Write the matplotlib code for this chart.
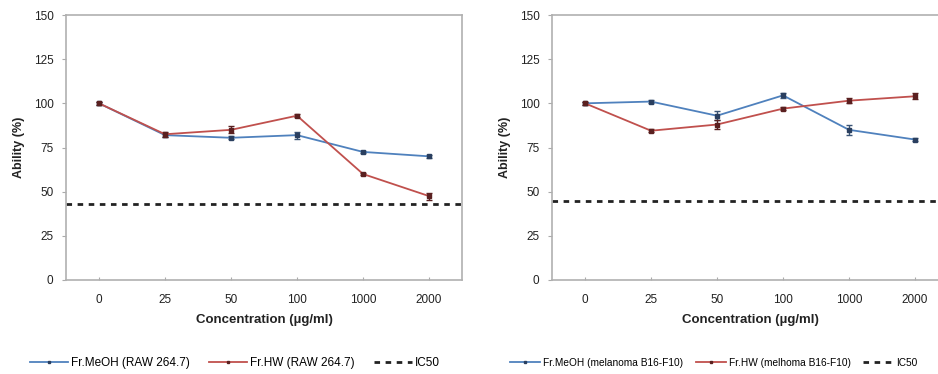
import matplotlib
matplotlib.use("Agg")
import matplotlib.pyplot as plt
from matplotlib.lines import Line2D
import numpy as np

plt.rcParams['font.family'] = ['Liberation Sans', 'DejaVu Sans']

categories = ["0", "25", "50", "100", "1000", "2000"]

# Left panel (RAW 264.7)
raw_meoh = [100, 82, 80.5, 82, 72.5, 70]
raw_meoh_err = [0.8, 1.2, 0.8, 2.0, 0.8, 0.8]
raw_hw = [100, 82.5, 85, 93, 60, 47.5]
raw_hw_err = [0.8, 1.5, 2.0, 1.0, 0.8, 2.0]
raw_ic50 = 43

# Right panel (melanoma B16-F10)
mel_meoh = [100, 101, 93, 104.5, 85, 79.5]
mel_meoh_err = [0.8, 0.8, 2.5, 1.2, 3.0, 0.8]
mel_hw = [100, 84.5, 88, 97, 101.5, 104]
mel_hw_err = [0.8, 0.8, 2.5, 1.0, 1.5, 1.8]
mel_ic50 = 45

yticks = [0, 25, 50, 75, 100, 125, 150]

blue = "#4F81BD"
red = "#C0504D"
W, H = 938, 374

fig = plt.figure(figsize=(W / 100, H / 100), dpi=100)


def panel(left_px, right_px, meoh, meoh_err, hw, hw_err, ic50, labels, ylabel_x,
          legend_x, leg_fs, colsp, hlen):
    ax = fig.add_axes([left_px / W, 1 - 280 / H, (right_px - left_px) / W, (280 - 15) / H])
    x = np.arange(len(categories)) + 0.5
    ax.errorbar(x, meoh, yerr=meoh_err, color=blue, lw=1.3, marker='s', ms=2.5,
                mfc='#2a3f5f', mec='#2a3f5f', ecolor='#3a5577', elinewidth=1, capsize=2,
                zorder=3)
    ax.errorbar(x, hw, yerr=hw_err, color=red, lw=1.3, marker='s', ms=2.5,
                mfc='#5a2020', mec='#5a2020', ecolor='#5a2020', elinewidth=1, capsize=2,
                zorder=4)
    ax.axhline(ic50, color='#222222', lw=2, ls=(0, (2, 2)), zorder=2)
    ax.set_xlim(0, len(categories))
    ax.set_ylim(0, 150)
    ax.set_yticks(yticks)
    ax.set_yticklabels([str(v) for v in yticks], fontsize=8.5, color='#222222')
    ax.set_xticks(x)
    ax.set_xticklabels(categories, fontsize=8.5, color='#222222')
    ax.tick_params(axis='x', direction='in', length=2, color='#aaaaaa', pad=10)
    ax.tick_params(axis='y', direction='out', length=3, color='#aaaaaa', pad=6)
    for s in ax.spines.values():
        s.set_color('#b0b0b0')
        s.set_linewidth(1.2)
    ax.set_xlabel("Concentration (µg/ml)", fontsize=9.5, fontweight='bold', labelpad=6, color='#222222')
    ax.set_ylabel("Ability (%)", fontsize=9, fontweight='bold', color='#222222')
    ax.yaxis.set_label_coords((ylabel_x - left_px) / (right_px - left_px), 0.5)
    handles = [
        Line2D([], [], color=blue, lw=1.3, marker='s', ms=2, mfc='#2a3f5f', mec='#2a3f5f'),
        Line2D([], [], color=red, lw=1.3, marker='s', ms=2, mfc='#5a2020', mec='#5a2020'),
        Line2D([], [], color='#222222', lw=2, ls=(0, (2, 2))),
    ]
    fig.legend(handles, labels, loc='center left',
               bbox_to_anchor=(legend_x / W, 1 - 363 / H), ncol=3, frameon=False,
               fontsize=leg_fs, handlelength=hlen, columnspacing=colsp, handletextpad=0.3,
               borderaxespad=0, borderpad=0)
    return ax


panel(66, 462, raw_meoh, raw_meoh_err, raw_hw, raw_hw_err, raw_ic50,
      ["Fr.MeOH (RAW 264.7)", "Fr.HW (RAW 264.7)", "IC50"], 25, 30, 8.5, 1.6, 3.2)
panel(552, 948, mel_meoh, mel_meoh_err, mel_hw, mel_hw_err, mel_ic50,
      ["Fr.MeOH (melanoma B16-F10)", "Fr.HW (melhoma B16-F10)", "IC50"], 511, 510, 7.3, 1.2, 3.0)

fig.savefig("out.png", dpi=100)
